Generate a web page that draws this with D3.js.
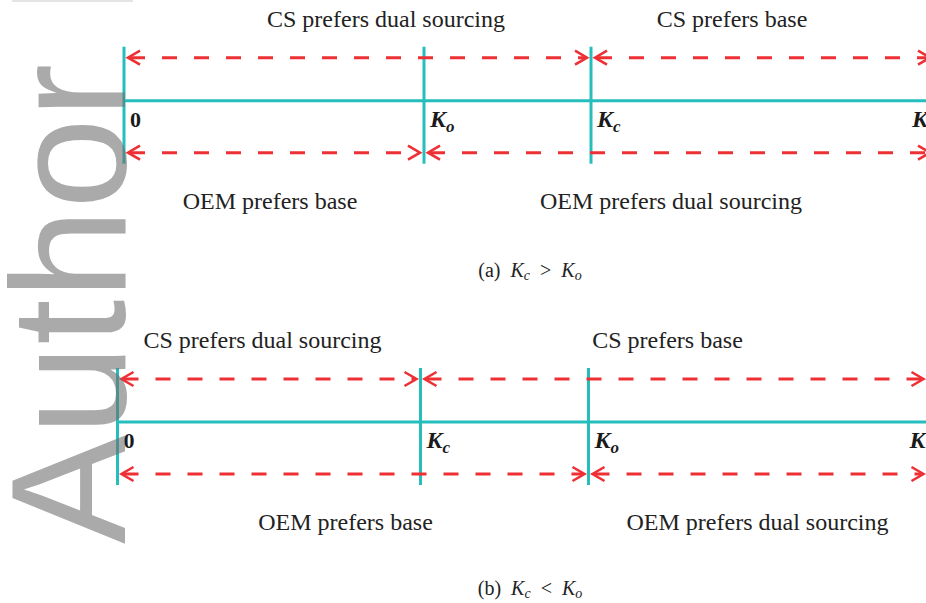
<!DOCTYPE html>
<html>
<head>
<meta charset="utf-8">
<script src="https://cdn.jsdelivr.net/npm/d3@7"></script>
<style>
  body { margin: 0; background: #fff; }
  svg { display: block; }
</style>
</head>
<body>
<script>
// threshold positions along the K axis for each panel (in K units)
const panelNames = ["a", "b"];
const thresholdsA = [{name: "0", sub: "", v: 0}, {name: "K", sub: "o", v: 3.0}, {name: "K", sub: "c", v: 4.67}, {name: "K", sub: "", v: 7.82}];
const thresholdsB = [{name: "0", sub: "", v: 0}, {name: "K", sub: "c", v: 3.03}, {name: "K", sub: "o", v: 4.71}, {name: "K", sub: "", v: 7.86}];
const axisEnd = 8.1;

// arrow rows: [from, to] ranges
const csRangesA = [[0, 4.67], [4.67, axisEnd]];
const oemRangesA = [[0, 3.0], [3.0, axisEnd]];
const csRangesB = [[0, 3.03], [3.03, axisEnd]];
const oemRangesB = [[0, 4.71], [4.71, axisEnd]];

const csLabelsA = ["CS prefers dual sourcing", "CS prefers base"];
const oemLabelsA = ["OEM prefers base", "OEM prefers dual sourcing"];
const csLabelsB = ["CS prefers dual sourcing", "CS prefers base"];
const oemLabelsB = ["OEM prefers base", "OEM prefers dual sourcing"];
// label centres in K units
const csLabelPosA = [2.62, 6.08];
const oemLabelPosA = [1.46, 5.47];
const csLabelPosB = [1.45, 5.5];
const oemLabelPosB = [2.28, 6.4];

const captions = [["(a)", "K", "c", ">", "K", "o"], ["(b)", "K", "c", "<", "K", "o"]];

const width = 926, height = 603;
const teal = "#26bdbd", red = "#ee3035";

const svg = d3.select("body").append("svg")
  .attr("width", width).attr("height", height);

svg.append("rect").attr("x", 12).attr("y", 0).attr("width", 121).attr("height", 2).attr("fill", "#e4e4e4");

const panels = [
  {x0: 124, axisY: 100.7, th: thresholdsA, cs: csRangesA, oem: oemRangesA, csL: csLabelsA, oemL: oemLabelsA, csP: csLabelPosA, oemP: oemLabelPosA, capY: 277},
  {x0: 117.5, axisY: 422, th: thresholdsB, cs: csRangesB, oem: oemRangesB, csL: csLabelsB, oemL: oemLabelsB, csP: csLabelPosB, oemP: oemLabelPosB, capY: 595}
];

function arrow(g, x1, x2, y) {
  const a = x1 + 4, b = x2 - 4;
  g.append("line").attr("x1", a + 2).attr("x2", b - 2).attr("y1", y).attr("y2", y)
    .attr("stroke", red).attr("stroke-width", 3).attr("stroke-dasharray", "15,17");
  g.append("path").attr("d", `M${a + 12},${y - 7}L${a},${y}L${a + 12},${y + 7}`)
    .attr("fill", "none").attr("stroke", red).attr("stroke-width", 2.6);
  g.append("path").attr("d", `M${b - 12},${y - 7}L${b},${y}L${b - 12},${y + 7}`)
    .attr("fill", "none").attr("stroke", red).attr("stroke-width", 2.6);
}

panels.forEach(function(p, i) {
  const x = d3.scaleLinear().domain([0, 1]).range([p.x0, p.x0 + 100]);
  const g = svg.append("g").attr("id", "panel-" + panelNames[i]);
  const y = p.axisY;

  g.append("line").attr("x1", x(0)).attr("x2", x(axisEnd) + 20).attr("y1", y).attr("y2", y)
    .attr("stroke", teal).attr("stroke-width", 3);

  p.th.slice(0, 3).forEach(function(t) {
    g.append("line").attr("x1", x(t.v)).attr("x2", x(t.v)).attr("y1", y - 54).attr("y2", y + 63)
      .attr("stroke", teal).attr("stroke-width", 3);
  });

  p.th.forEach(function(t) {
    const tx = g.append("text").attr("x", x(t.v) + 6).attr("y", y + 26)
      .attr("font-family", "Liberation Serif").attr("font-weight", "bold")
      .attr("font-size", t.name === "0" ? 22 : 24)
      .attr("font-style", t.name === "0" ? "normal" : "italic").attr("fill", "#1a1a1a");
    tx.append("tspan").text(t.name);
    if (t.sub) tx.append("tspan").attr("dy", 5).attr("font-size", 17).text(t.sub);
  });

  p.cs.forEach(function(r) { arrow(g, x(r[0]), x(r[1]), y - 43); });
  p.oem.forEach(function(r) { arrow(g, x(r[0]), x(r[1]), y + 52); });

  p.csL.forEach(function(l, j) {
    g.append("text").attr("x", x(p.csP[j])).attr("y", y - 74).attr("text-anchor", "middle")
      .attr("font-family", "Liberation Serif").attr("font-size", 24).attr("fill", "#222").text(l);
  });
  p.oemL.forEach(function(l, j) {
    g.append("text").attr("x", x(p.oemP[j])).attr("y", y + 108).attr("text-anchor", "middle")
      .attr("font-family", "Liberation Serif").attr("font-size", 24).attr("fill", "#222").text(l);
  });

  const c = captions[i];
  const cap = svg.append("text").attr("x", 530).attr("y", p.capY).attr("text-anchor", "middle")
    .attr("font-family", "Liberation Serif").attr("font-size", 20).attr("fill", "#222");
  cap.append("tspan").text(c[0] + "\u2002");
  cap.append("tspan").attr("font-style", "italic").text(c[1]);
  cap.append("tspan").attr("font-style", "italic").attr("font-size", 14).attr("dy", 3).text(c[2]);
  cap.append("tspan").attr("dy", -3).text("\u2002" + c[3] + "\u2002");
  cap.append("tspan").attr("font-style", "italic").text(c[4]);
  cap.append("tspan").attr("font-style", "italic").attr("font-size", 14).attr("dy", 3).text(c[5]);
});

// watermark
svg.append("text").attr("transform", "translate(125,544) rotate(-90)")
  .attr("font-family", "Liberation Sans").attr("font-size", 163)
  .attr("fill", "#6e6e6e").attr("opacity", 0.58).text("Author");
</script>
</body>
</html>
